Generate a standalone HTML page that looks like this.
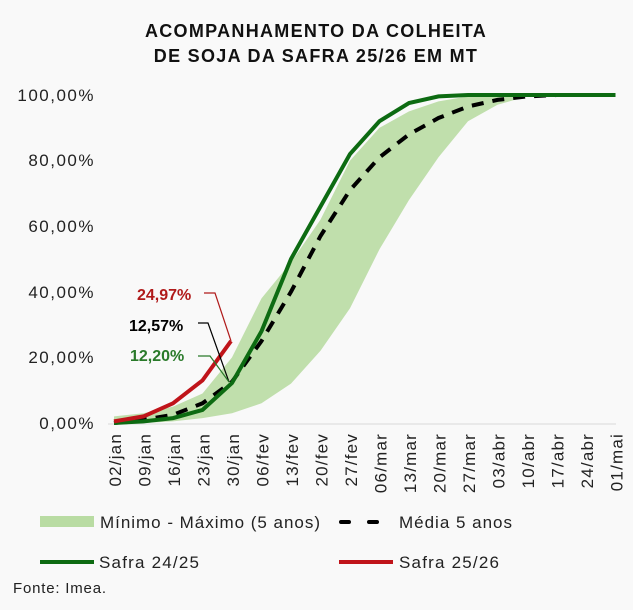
<!DOCTYPE html>
<html><head><meta charset="utf-8"><style>
html,body{margin:0;padding:0;background:#f9f9f9;}
svg{display:block;font-family:"Liberation Sans",sans-serif;}
</style></head><body>
<svg width="633" height="610" viewBox="0 0 633 610" xmlns="http://www.w3.org/2000/svg">
<rect width="633" height="610" fill="#f9f9f9"/>
<text x="316" y="37" text-anchor="middle" font-size="18" font-weight="bold" fill="#111" letter-spacing="1.3">ACOMPANHAMENTO DA COLHEITA</text>
<text x="316" y="62" text-anchor="middle" font-size="18" font-weight="bold" fill="#111" letter-spacing="1.3">DE SOJA DA SAFRA 25/26 EM MT</text>
<g font-size="17" fill="#222" text-anchor="end" letter-spacing="1.5">
<text x="95" y="101">100,00%</text><text x="95" y="166">80,00%</text><text x="95" y="232">60,00%</text>
<text x="95" y="298">40,00%</text><text x="95" y="363">20,00%</text><text x="95" y="429">0,00%</text>
</g>
<polygon fill="#b9dca3" opacity="0.9" points="114,416.4 143.5,413.2 173,406.6 202.5,393.5 232,357.4 261.5,298.4 291,262.3 320.5,219.6 350,160.6 379.5,127.8 409,111.4 438.5,101.4 468,96.4 497.5,95 527,95 556.5,95 586,95 615.5,95 615.5,95 586,95 556.5,95 527,96.4 497.5,104.8 468,121.2 438.5,157.3 409,200 379.5,249.2 350,308.2 320.5,350.8 291,383.6 261.5,403.3 232,413.2 202.5,418.1 173,421.4 143.5,423 114,423"/>
<line x1="108" y1="424" x2="616" y2="424" stroke="#d9d9d9" stroke-width="1"/>
<polyline fill="none" stroke="#000" stroke-width="4" stroke-dasharray="12,9" points="114,423 143.5,419.7 173,414.8 202.5,403.3 232,381.8 261.5,341 291,291.8 320.5,236 350,190.1 379.5,157.3 409,134.4 438.5,118 468,106.5 497.5,99.9 527,96.4 556.5,95 586,95 615.5,95"/>
<polyline fill="none" stroke="#0d6b12" stroke-width="4" points="114,423 143.5,421.4 173,418.1 202.5,409.9 232,383 261.5,331.2 291,259 320.5,206.5 350,154 379.5,121.2 409,103 438.5,96.4 468,95 497.5,95 527,95 556.5,95 586,95 615.5,95"/>
<polyline fill="none" stroke="#c0141a" stroke-width="4" points="114,421.4 143.5,416.4 173,403.3 202.5,380.4 231,341.1"/>
<polyline fill="none" stroke="#b01a1a" stroke-width="1.2" points="204,293 215,293 231,341"/>
<polyline fill="none" stroke="#000" stroke-width="1.2" points="198,323 208,323 229,382"/>
<polyline fill="none" stroke="#2a7a2a" stroke-width="1.2" points="198,356 210,356 229,382"/>
<text x="137" y="300" font-size="16" font-weight="bold" fill="#b01a1a">24,97%</text>
<text x="129" y="331" font-size="16" font-weight="bold" fill="#000">12,57%</text>
<text x="130" y="361" font-size="16" font-weight="bold" fill="#2a7a2a">12,20%</text>
<g font-size="17" fill="#222" letter-spacing="1.2">
<text transform="translate(121,433) rotate(-90)" text-anchor="end">02/jan</text>
<text transform="translate(150.5,433) rotate(-90)" text-anchor="end">09/jan</text>
<text transform="translate(180,433) rotate(-90)" text-anchor="end">16/jan</text>
<text transform="translate(209.5,433) rotate(-90)" text-anchor="end">23/jan</text>
<text transform="translate(239,433) rotate(-90)" text-anchor="end">30/jan</text>
<text transform="translate(268.5,433) rotate(-90)" text-anchor="end">06/fev</text>
<text transform="translate(298,433) rotate(-90)" text-anchor="end">13/fev</text>
<text transform="translate(327.5,433) rotate(-90)" text-anchor="end">20/fev</text>
<text transform="translate(357,433) rotate(-90)" text-anchor="end">27/fev</text>
<text transform="translate(386.5,433) rotate(-90)" text-anchor="end">06/mar</text>
<text transform="translate(416,433) rotate(-90)" text-anchor="end">13/mar</text>
<text transform="translate(445.5,433) rotate(-90)" text-anchor="end">20/mar</text>
<text transform="translate(475,433) rotate(-90)" text-anchor="end">27/mar</text>
<text transform="translate(504.5,433) rotate(-90)" text-anchor="end">03/abr</text>
<text transform="translate(534,433) rotate(-90)" text-anchor="end">10/abr</text>
<text transform="translate(563.5,433) rotate(-90)" text-anchor="end">17/abr</text>
<text transform="translate(593,433) rotate(-90)" text-anchor="end">24/abr</text>
<text transform="translate(622.5,433) rotate(-90)" text-anchor="end">01/mai</text>
</g>
<rect x="40" y="516" width="54" height="11" fill="#b9dca3"/>
<g font-size="17" fill="#222">
<text x="100" y="528" textLength="220">Mínimo - Máximo (5 anos)</text>
<text x="399" y="528" textLength="113">Média 5 anos</text>
<text x="99" y="568" textLength="100">Safra 24/25</text>
<text x="399" y="568" textLength="100">Safra 25/26</text>
</g>
<line x1="341" y1="522" x2="388" y2="522" stroke="#000" stroke-width="4" stroke-dasharray="8,20" stroke-linecap="round"/>
<line x1="40" y1="562" x2="94" y2="562" stroke="#0d6b12" stroke-width="4"/>
<line x1="339" y1="562" x2="393" y2="562" stroke="#c0141a" stroke-width="4"/>
<text x="13" y="593" font-size="15" fill="#222" textLength="93">Fonte: Imea.</text>
</svg>
</body></html>
